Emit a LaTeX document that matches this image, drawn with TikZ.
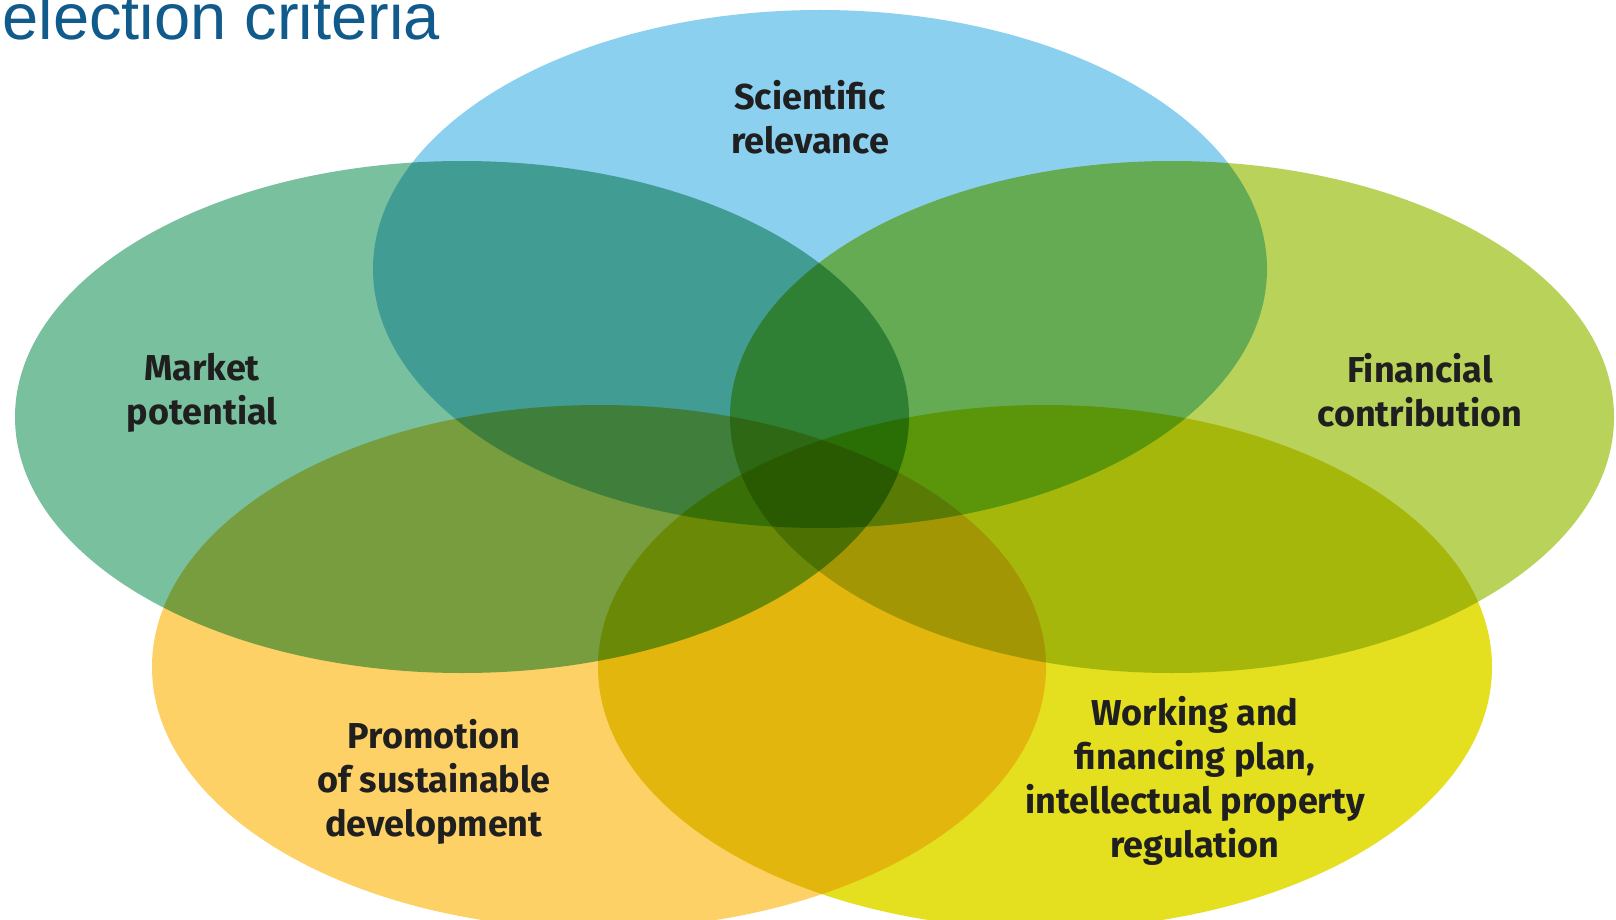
\documentclass[tikz,border=0pt]{standalone}
\usepackage{fontspec}
\setmainfont{Liberation Sans}
\newfontfamily\labelfont{Fira Sans}
\usepackage{tikz}
\definecolor{sciblue}{RGB}{140,208,240}
\definecolor{marketgreen}{RGB}{120,192,158}
\definecolor{financegreen}{RGB}{185,210,90}
\definecolor{promoorange}{RGB}{253,209,102}
\definecolor{workyellow}{RGB}{228,223,31}
\definecolor{titleblue}{RGB}{16,90,140}
\tikzstyle{criterion}=[blend mode=multiply]
\tikzstyle{label}=[align=center,text=black!88,font=\labelfont\bfseries\fontsize{36}{44}\selectfont]

\begin{document}
\begin{tikzpicture}[x=1pt,y=-1pt]

	\useasboundingbox (0,0) rectangle (1616,920);
	\fill[white] (0,0) rectangle (1616,920);

	%five criteria
	\fill[criterion,sciblue] (820,269) ellipse (447 and 259);
	\fill[criterion,marketgreen] (462,417) ellipse (447 and 256);
	\fill[criterion,financegreen] (1172,417) ellipse (442 and 256);
	\fill[criterion,promoorange] (599,667) ellipse (447 and 262);
	\fill[criterion,workyellow] (1045,667) ellipse (447 and 262);

	%labels
	\node[label] (scientific) at (810,117) {Scientific\\relevance};
	\node[label] (market) at (202,393) {Market\\potential};
	\node[label] (financial) at (1420,390) {Financial\\contribution};
	\node[label] (promotion) at (434,782) {Promotion\\of sustainable\\development};
	\node[label] (working) at (1195,781) {Working and\\financing plan,\\intellectual property\\regulation};

	%title
	\node[anchor=base east,text=titleblue,font=\fontsize{65}{72}\selectfont,inner sep=0pt] (title) at (440,40) {election criteria};
\end{tikzpicture}
\end{document}
